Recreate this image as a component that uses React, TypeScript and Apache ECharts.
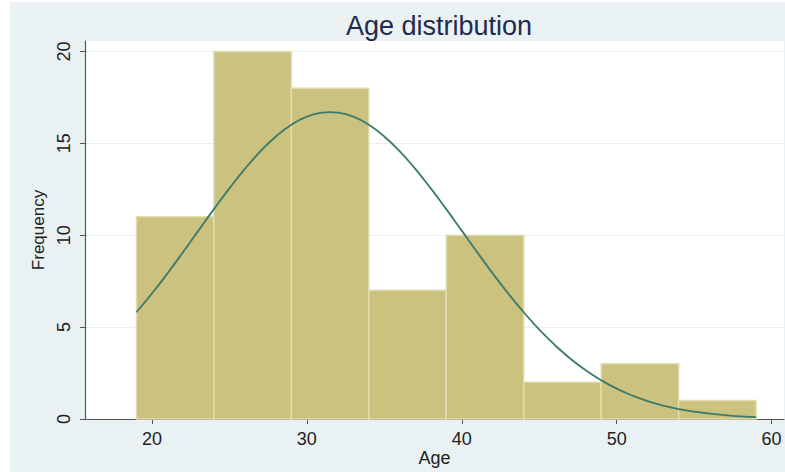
import React, { useEffect, useRef } from "react";
import * as echarts from "echarts";

const binStarts = [19, 24, 29, 34, 39, 44, 49, 54];
const binWidth = 5;
const frequencies = [11, 20, 18, 7, 10, 2, 3, 1];
const curveX = [19,20,21,22,23,24,25,26,27,28,29,30,31,31.5,32,33,34,35,36,37,38,39,40,41,42,43,44,45,46,47,48,49,50,51,52,53,54,55,56,57,58,59];
const curveY = [5.81,6.83,7.92,9.07,10.25,11.42,12.55,13.61,14.56,15.37,16.01,16.45,16.67,16.70,16.67,16.45,16.01,15.37,14.56,13.61,12.55,11.42,10.25,9.07,7.92,6.83,5.81,4.87,4.03,3.29,2.65,2.11,1.65,1.28,0.97,0.73,0.54,0.40,0.29,0.21,0.14,0.10];
const xTicks = [20, 30, 40, 50, 60];
const yTicks = [0, 5, 10, 15, 20];

const FONT = "Liberation Sans, Arial, sans-serif";

export default function App() {
  const ref = useRef<HTMLDivElement>(null);
  useEffect(() => {
    if (!ref.current) return;
    const chart = echarts.init(ref.current, undefined, { renderer: "svg" });
    const barData = binStarts.map((s, i) => [s, s + binWidth, frequencies[i]]);
    chart.setOption({
      animation: false,
      backgroundColor: "#ffffff",
      graphic: [
        {
          type: "rect",
          z: -100,
          shape: { x: 10, y: 2, width: 775, height: 470 },
          style: { fill: "#EAF1F3" },
          silent: true,
        },
      ],
      title: {
        text: "Age distribution",
        left: 434,
        top: 7,
        textAlign: "center",
        textStyle: { fontFamily: FONT, fontSize: 27, fontWeight: "normal", color: "#1E2B4E" },
      },
      grid: {
        left: 85,
        top: 41,
        right: 1,
        bottom: 53,
        show: true,
        backgroundColor: "#ffffff",
        borderWidth: 0,
        containLabel: false,
        outerBoundsMode: "none",
      },
      xAxis: {
        type: "value",
        min: 15.68,
        max: 60.8,
        interval: 10,
        name: "Age",
        nameLocation: "middle",
        nameGap: 30,
        nameMoveOverlap: false,
        nameTextStyle: { fontFamily: FONT, fontSize: 18, color: "#222" },
        axisLine: { show: true, onZero: false, lineStyle: { color: "#555", width: 1.2 } },
        axisTick: { show: true, length: 5, lineStyle: { color: "#555" }, customValues: xTicks },
        axisLabel: { fontFamily: FONT, fontSize: 18, color: "#222", margin: 11, customValues: xTicks },
        splitLine: { show: false },
      },
      yAxis: {
        type: "value",
        min: 0,
        max: 20.57,
        interval: 5,
        name: "Frequency",
        nameLocation: "middle",
        nameGap: 38,
        nameMoveOverlap: false,
        nameRotate: 90,
        nameTextStyle: { fontFamily: FONT, fontSize: 17, color: "#222" },
        axisLine: { show: true, lineStyle: { color: "#555", width: 1.2 } },
        axisTick: { show: true, length: 5, lineStyle: { color: "#555" }, customValues: yTicks },
        axisLabel: { fontFamily: FONT, fontSize: 18, color: "#222", rotate: 90, margin: 12, customValues: yTicks },
        splitLine: { show: true, lineStyle: { color: "#E6EFF1", width: 1 } },
      },
      series: [
        {
          type: "custom",
          data: barData,
          renderItem: (params: any, api: any) => {
            const p0 = api.coord([api.value(0), api.value(2)]);
            const p1 = api.coord([api.value(1), 0]);
            return {
              type: "rect",
              shape: { x: p0[0], y: p0[1], width: p1[0] - p0[0], height: p1[1] - p0[1] },
              style: { fill: "#CAC27E", stroke: "#E2DDAE", lineWidth: 1.5 },
            };
          },
          encode: { x: [0, 1], y: 2 },
          z: 2,
        },
        {
          type: "line",
          data: curveX.map((x, i) => [x, curveY[i]]),
          smooth: true,
          showSymbol: false,
          lineStyle: { color: "#3B7A6C", width: 1.8 },
          z: 3,
        },
      ],
    });
    return () => chart.dispose();
  }, []);
  return (
    <div
      ref={ref}
      style={{ position: "absolute", left: 0, top: 0, width: 785, height: 472 }}
    />
  );
}
